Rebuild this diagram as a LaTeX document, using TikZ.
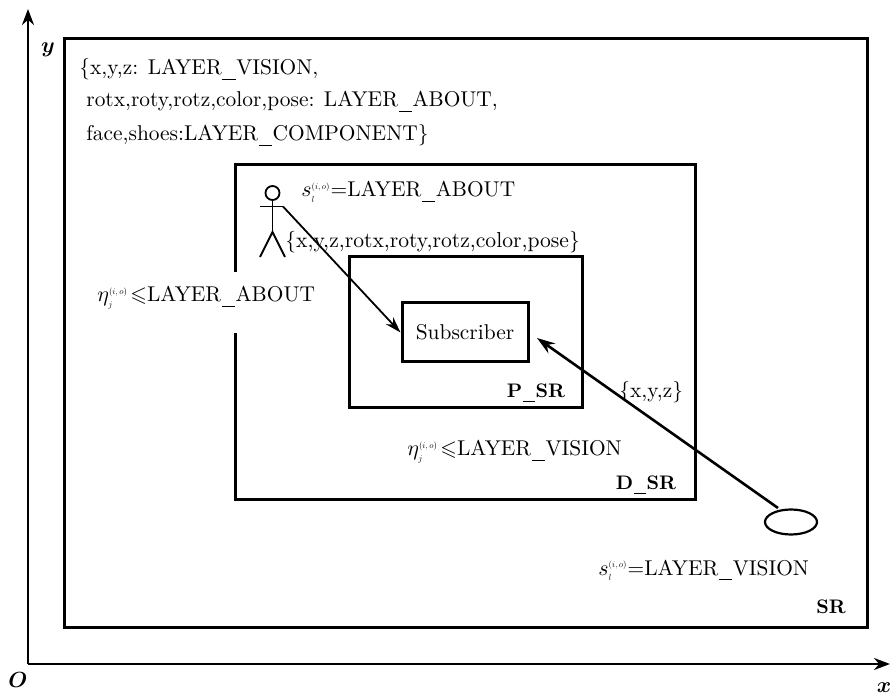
\documentclass[tikz,border=0pt]{standalone}
\usepackage{amsmath}
\usepackage{amssymb}
\usetikzlibrary{arrows.meta}

\newcommand{\tinyidx}[1]{\scalebox{0.4}{$#1$}}
\newcommand{\slabel}{$s_{\tinyidx{l}}^{\tinyidx{(i,o)}}$}
\newcommand{\etalabel}{$\eta_{\tinyidx{j}}^{\tinyidx{(i,o)}}\!\leqslant$}
\newcommand{\lowbar}{\kern.03em\rule[-.22em]{.62em}{.45pt}\kern.03em}

\tikzset{
    zonebox/.style={draw, line width=1.5pt},
    txt/.style={inner sep=0pt, anchor=base west, font=\fontsize{10.7}{13}\selectfont},
    tag/.style={inner sep=0pt, anchor=base, font=\fontsize{9.8}{12}\selectfont\bfseries},
    axis/.style={line width=1.3pt, -{Stealth[length=8pt,width=6pt]}},
    thinarrow/.style={line width=0.9pt, -{Stealth[length=8pt,width=5pt]}},
    thickarrow/.style={line width=1.3pt, -{Stealth[length=9pt,width=6pt]}}
}

\begin{document}
\begin{tikzpicture}[x=0.5pt, y=-0.5pt]
        \useasboundingbox (0,0) rectangle (890,695);

        \coordinate (O) at (28,664);
        \coordinate (ytop) at (28,9);
        \coordinate (xend) at (890,664);
        \draw[axis] (O) -- (ytop);
        \draw[axis] (O) -- (xend);
        \node[txt, anchor=center] (ylabel) at (48,50) {$\boldsymbol{y}$};
        \node[txt, anchor=center] (xlabel) at (884,688) {$\boldsymbol{x}$};
        \node[txt, anchor=center] (Olabel) at (18,680) {$\boldsymbol{O}$};

        \draw[zonebox] (64,39) rectangle (867,627);
        \draw[zonebox] (235,165) rectangle (695,500);
        \draw[zonebox] (349,257) rectangle (582,408);

        \node[txt] (attrs1) at (79,75) {\{x,y,z: LAYER\lowbar VISION,};
        \node[txt] (attrs2) at (86,107) {rotx,roty,rotz,color,pose: LAYER\lowbar ABOUT,};
        \node[txt] (attrs3) at (86,141) {face,shoes:LAYER\lowbar COMPONENT\}};

        \node[txt, fill=white, text height=15pt, text depth=15.5pt] (etaabout) at (97,302) {\etalabel LAYER\lowbar ABOUT};
        \node[txt] (sabout) at (301,197) {\slabel=LAYER\lowbar ABOUT};
        \node[txt, font=\fontsize{10.8}{13}\selectfont] (fields) at (285,248) {\{x,y,z,rotx,roty,rotz,color,pose\}};
        \node[txt] (etavision) at (407,456) {\etalabel LAYER\lowbar VISION};
        \node[txt] (svision) at (598,575) {\slabel=LAYER\lowbar VISION};
        \node[txt] (xyz) at (619,398) {\{x,y,z\}};

        \node[tag] (psr) at (536,398) {P\lowbar SR};
        \node[tag] (dsr) at (646,490) {D\lowbar SR};
        \node[tag] (sr) at (831,613) {SR};

        \node[zonebox, txt, anchor=center, minimum width=63pt, minimum height=29.5pt] (sub) at (465,332.5) {Subscriber};
        \draw[line width=1.1pt] (791,522) ellipse (26 and 12.5);
        \coordinate (cam) at (778,508);
        \coordinate (subin) at (537,338);

        % person
        \draw[line width=0.9pt] (272.5,193) circle (7);
        \draw[line width=0.9pt] (272.5,200) -- (272.5,232);
        \draw[line width=0.9pt] (260,206.5) -- (283,206.5);
        \draw[line width=0.9pt] (260,257) -- (272.5,232) -- (285,257);
        \coordinate (hand) at (283,206.5);

        \draw[thinarrow] (hand) -- (sub.west);
        \draw[thickarrow] (cam) -- (subin);
\end{tikzpicture}
\end{document}
